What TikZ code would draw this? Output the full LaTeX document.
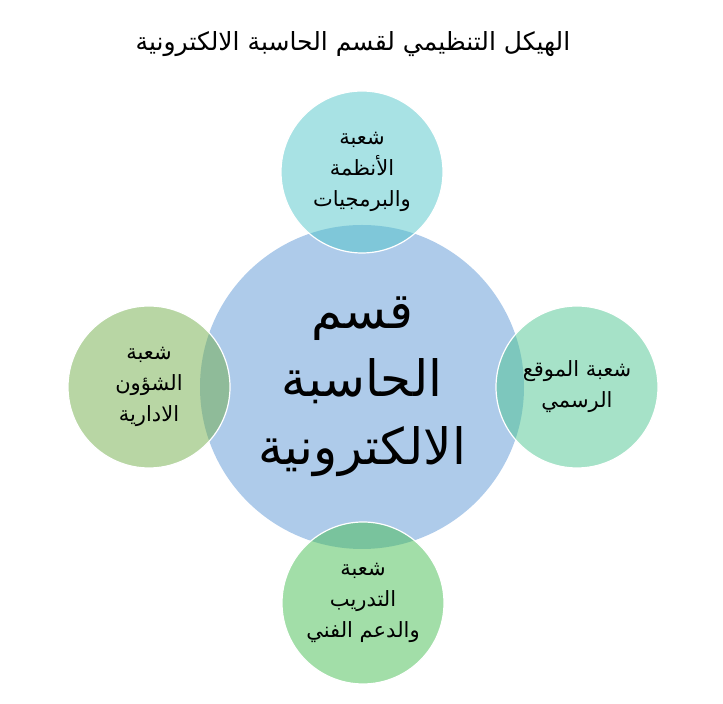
\documentclass[tikz,border=0pt]{standalone}
\usepackage{fontspec}
\newfontfamily\arabicfont[Script=Arabic]{DejaVu Sans}
\TeXXeTstate=1
\definecolor{deptblue}{RGB}{174, 203, 234}
\definecolor{systeal}{RGB}{81, 197, 201}
\definecolor{webgreen}{RGB}{77, 197, 145}
\definecolor{traingreen}{RGB}{69, 189, 81}
\definecolor{adminolive}{RGB}{113, 173, 73}
\newcommand{\artext}[1]{\beginR #1\endR}
\usetikzlibrary{positioning}

\begin{document}
\begin{tikzpicture}[x=1pt, y=1pt,
  unit/.style={circle, draw=white, line width=1.2pt, fill opacity=0.5, text opacity=1,
    minimum size=162pt, inner sep=0pt, align=center, font=\arabicfont\fontsize{21}{31}\selectfont}]
  \useasboundingbox (0,0) rectangle (723,704);

  % Title
  \node[font=\arabicfont\fontsize{25}{30}\selectfont] (title) at (353, 660) {\artext{الهيكل التنظيمي لقسم الحاسبة الالكترونية}};

  % Department
  \node[circle, fill=deptblue, minimum size=324pt, inner sep=0pt, align=center,
    font=\arabicfont\fontsize{50}{68}\selectfont] (dept) at (362, 317)
    {\artext{قسم}\\ \artext{الحاسبة}\\ \artext{الالكترونية}};

  % Sections around it
  \node[unit, fill=systeal] (sys) at (362, 532)
    {\artext{شعبة}\\ \artext{الأنظمة}\\ \artext{والبرمجيات}};
  \node[unit, fill=webgreen] (web) at (577, 317)
    {\artext{شعبة الموقع}\\ \artext{الرسمي}};
  \node[unit, fill=traingreen] (train) at (363, 101)
    {\artext{شعبة}\\ \artext{التدريب}\\ \artext{والدعم الفني}};
  \node[unit, fill=adminolive] (admin) at (149, 317)
    {\artext{شعبة}\\ \artext{الشؤون}\\ \artext{الادارية}};
\end{tikzpicture}
\end{document}
